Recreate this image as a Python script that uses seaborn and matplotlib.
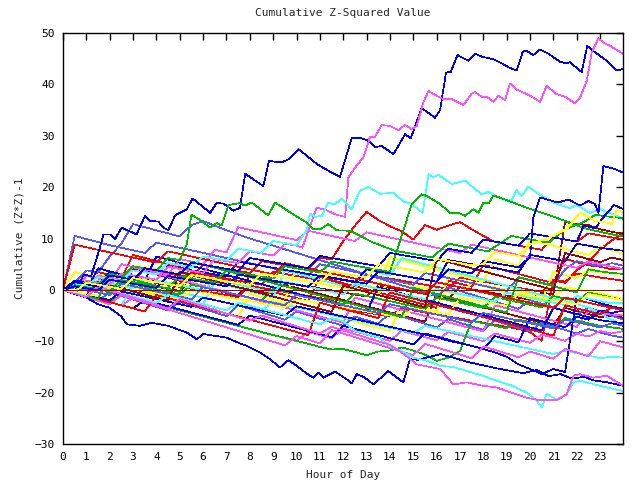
import numpy as np
import pandas as pd
import matplotlib
matplotlib.use("Agg")
import matplotlib.pyplot as plt
import seaborn as sns

TITLE = "Cumulative Z-Squared Value"
XLABEL = "Hour of Day"
YLABEL = "Cumulative (Z*Z)-1"
XTICKS = list(range(0, 24))
YTICKS = list(range(-30, 51, 10))

COLORS = {
    "red": "#ff0000", "green": "#00b800", "blue": "#0000f0", "magenta": "#ff50ff",
    "cyan": "#40ffff", "darkred": "#a00000", "yellow": "#ffff00", "lightblue": "#5858ff",
}

# ---- traced outlier series: (hour, value) pairs ----
A_BLUE = [(0,0),(0.3,1.0),(0.6,0.6),(0.9,3.0),(1.2,2.6),(1.58,8.2),(1.73,10.8),(2.01,10.8),(2.23,9.9),(2.51,12.1),
          (3.15,10.8),(3.51,14.4),(3.73,13.4),(4.08,13.3),(4.30,12.1),(4.51,11.6),(4.80,14.5),(5.30,15.7),(5.55,17.8),
          (6.30,15.0),(6.58,16.9),(6.87,16.8),(7.30,15.4),(7.58,16.0),(7.80,22.6),(8.58,20.2),(8.82,25.1),(9.36,24.8),
          (9.65,25.4),(10.08,27.4),(10.44,26.1),(10.87,24.5),(11.43,23.0),(11.86,22.0),(12.36,29.5),(12.79,29.5),
          (13.08,29.0),(13.36,27.8),(13.65,28.0),(14.15,26.4),(14.65,30.3),(14.89,29.5),(15.36,35.4),(15.93,33.5),
          (16.15,35.0),(16.40,42.3),(16.60,42.4),(16.89,45.7),(17.36,44.6),(17.64,46.0),(17.93,45.4),(18.43,44.9),
          (18.86,43.9),(19.14,43.2),(19.43,42.7),(19.69,46.4),(19.86,46.5),(20.14,45.7),(20.43,46.8),(20.78,46.0),
          (21.28,44.4),(21.57,44.1),(21.71,44.3),(22.21,42.4),(22.45,47.5),(22.71,46.5),(23.28,44.6),(23.71,42.7),(24.0,43.0)]
B_MAGENTA = [(0,0),(0.5,-0.4),(1,1.8),(1.5,1.4),(2,1.0),(2.5,3.2),(3,2.8),(3.5,2.4),(4,2.0),(4.5,4.5),(5,4.1),(5.5,3.7),
             (6,3.3),(6.5,6.0),(7,5.6),(7.5,5.2),(8,7.5),(8.5,7.1),(9,6.7),(9.5,9.0),(10,8.6),(10.25,8.2),(10.51,11.6),
             (10.86,16.0),(11.29,15.5),(11.65,14.7),(12.08,14.2),(12.22,21.9),(12.51,23.8),(12.86,25.8),(13.15,29.8),
             (13.36,29.8),(13.65,32.1),(14.0,31.9),(14.36,31.1),(14.65,32.1),(14.93,31.3),(15.15,31.9),(15.43,36.5),
             (15.65,38.7),(16.0,37.8),(16.29,37.1),(16.65,37.1),(17.15,36.0),(17.5,38.2),(17.64,38.5),(17.93,37.6),
             (18.15,37.6),(18.43,36.6),(18.64,37.8),(18.93,36.9),(19.14,40.2),(19.43,39.0),(20.0,37.8),(20.43,36.6),
             (20.71,39.7),(21.14,38.1),(21.5,37.6),(21.93,36.3),(22.14,37.4),(22.43,40.7),(22.64,46.2),(22.93,49.0),
             (23.14,48.1),(23.43,47.5),(24.0,45.9)]
C_CYAN = [(0,0),(0.5,1.2),(1,0.8),(1.5,2.5),(2,2.1),(2.5,1.7),(3,3.8),(3.5,3.4),(4,3.0),(4.5,5.2),(5,4.8),(5.5,4.4),
          (6,6.5),(6.5,6.1),(7,5.7),(7.5,8.0),(8,7.6),(8.5,7.2),(9,9.5),(9.5,9.1),(10,8.7),(10.44,11.6),(10.58,14.9),
          (10.8,14.2),(11.08,14.4),(11.36,17.0),(11.6,16.6),(11.93,17.7),(12.36,15.7),(12.72,19.3),(13.08,20.0),
          (13.58,18.7),(14.15,18.9),(14.58,17.2),(14.93,16.7),(15.4,15.0),(15.65,22.5),(15.86,21.9),(16.07,22.4),
          (16.65,20.6),(16.93,20.9),(17.22,21.3),(17.57,19.9),(17.93,18.6),(18.22,19.1),(18.57,18.2),(19.0,17.3),
          (19.22,17.5),(19.43,19.4),(19.64,18.3),(19.93,20.1),(20.29,18.9),(21.0,17.0),(21.71,15.9),(22.0,16.5),
          (22.57,15.0),(23.0,15.7),(23.57,14.7),(24.0,13.8)]
D_GREEN = [(0,0),(0.5,-0.6),(1,1.5),(1.5,1.1),(2,2.9),(2.5,2.5),(3,4.6),(3.5,4.2),(4,3.8),(4.5,6.2),(5,5.8),(5.3,8.9),
           (5.5,14.6),(5.87,13.6),(6.3,12.1),(6.58,13.0),(6.79,12.5),(7.08,16.5),(7.58,16.9),(7.79,16.4),(8.08,17.0),
           (8.79,14.5),(9.08,17.0),(9.86,14.7),(10.44,13.1),(10.72,11.8),(11.01,11.8),(11.36,12.8),(11.72,11.6),
           (12.29,11.5),(13.29,9.2),(14.22,7.6),(15,7.0),(15.8,6.3),(16.5,9.0),(17.3,8.3),(18.2,7.5),(19.2,10.5),
           (20.0,9.8),(20.8,9.2),(21.5,11.8),(22.3,13.2),(22.8,14.6),(23.3,14.3),(23.9,14.0),(24,13.8)]
E_GREEN = [(0,0),(0.5,0.9),(1,0.5),(1.5,0.1),(2,-0.3),(2.5,1.9),(3,1.5),(3.5,1.1),(4,0.7),(4.5,0.3),(5,2.6),(5.5,2.2),
           (6,1.8),(6.5,1.4),(7,3.8),(7.5,3.4),(8,3.0),(8.5,2.6),(9,2.2),(9.5,4.6),(10,4.2),(10.5,3.8),(11,3.4),
           (11.5,5.5),(12,5.1),(12.5,4.7),(13,4.3),(13.5,3.9),(14,3.5),(14.58,11.6),(14.93,16.7),(15.36,18.6),
           (15.57,18.3),(16.15,16.7),(16.57,15.0),(16.93,15.0),(17.22,14.4),(17.57,15.7),(17.79,15.0),(18.0,17.0),
           (18.22,16.8),(18.43,18.4),(18.86,17.7),(19.86,16.0),(20.57,14.9),(21.28,13.8),(22.28,12.1),(22.71,11.6),
           (23.3,11.0),(24,10.4)]
F_BLUE = [(0,0),(0.5,-0.8),(1,-1.5),(1.5,-2.8),(2,-3.5),(2.5,-5.2),(2.73,-6.7),(3.3,-7.0),(3.8,-6.4),(4.5,-7.0),
          (5.3,-8.3),(5.73,-9.6),(6.01,-8.6),(7.01,-9.3),(7.51,-10.3),(7.87,-10.9),(8.44,-12.2),(8.87,-13.5),
          (9.29,-15.1),(9.65,-13.7),(10.01,-14.8),(10.44,-16.3),(10.72,-17.1),(10.93,-16.1),(11.15,-17.1),
          (11.65,-15.9),(12.15,-17.4),(12.36,-18.2),(12.58,-16.4),(12.9,-17.0),(13.29,-18.4),(13.93,-15.8),
          (14.57,-18.0),(14.86,-13.5),(15.2,-13.6),(15.57,-13.2),(16.15,-12.5),(16.8,-13.3),(17.3,-14.0),(18.0,-14.7),
          (18.6,-15.3),(19.2,-15.8),(19.7,-16.2),(20.3,-15.6),(20.8,-16.8),(21.3,-16.4),(21.8,-17.3),(22.3,-16.9),
          (22.7,-17.6),(23.3,-18.0),(23.7,-18.4),(24,-18.7)]
G_CYAN = [(0,0),(0.5,-0.6),(1,-1.2),(1.5,0.5),(2,-0.1),(2.5,-0.7),(3,-1.3),(3.5,-1.9),(4,-2.5),(4.5,-1.0),(5,-1.6),
          (5.5,-2.2),(6,-2.8),(6.5,-3.4),(7,-4.0),(7.5,-2.5),(8,-3.1),(8.5,-3.7),(9,-4.3),(9.5,-4.9),(10,-5.5),
          (10.5,-6.1),(11,-6.7),(11.5,-5.5),(12,-6.1),(12.5,-8.0),(13,-8.6),(13.5,-9.2),(14,-11.0),(14.5,-11.9),
          (15.0,-13.2),(15.6,-13.8),(16.15,-14.8),(16.7,-15.0),(17.29,-15.8),(17.9,-16.6),(18.57,-17.7),(19.2,-18.6),
          (19.86,-20.0),(20.29,-21.6),(20.5,-22.9),(20.71,-20.3),(21.14,-21.3),(21.57,-20.3),(21.86,-18.0),
          (22.14,-17.7),(22.7,-18.3),(23.28,-19.0),(23.6,-19.3),(24,-19.7)]
H_MAGENTA = [(0,0),(0.5,-0.7),(1,-1.4),(1.5,0.6),(2,-0.1),(2.5,-0.8),(3,-1.5),(3.5,-2.2),(4,-2.9),(4.5,-3.6),(5,-1.8),
             (5.5,-2.5),(6,-3.2),(6.5,-3.9),(7,-4.6),(7.5,-5.3),(8,-6.0),(8.5,-5.0),(9,-5.7),(9.5,-6.4),(10,-7.1),
             (10.5,-7.8),(11,-8.5),(11.5,-7.2),(12,-7.9),(12.5,-8.6),(13,-9.3),(13.5,-10.0),(14,-10.7),(14.6,-12.5),
             (15.15,-14.5),(16.15,-15.4),(16.72,-18.4),(17.29,-18.0),(17.9,-18.6),(18.57,-19.0),(19.2,-20.0),
             (19.86,-21.0),(20.43,-21.5),(21.14,-21.5),(21.57,-20.3),(21.86,-16.7),(22.14,-16.4),(22.71,-17.1),
             (23.28,-16.7),(23.6,-17.6),(24,-18.7)]
I_BLUE = [(0,0),(0.5,0.7),(1,0.3),(1.5,-0.1),(2,2.0),(2.5,1.6),(3,1.2),(3.5,0.8),(4,0.4),(4.5,2.7),(5,2.3),(5.5,1.9),
          (6,1.5),(6.5,1.1),(7,0.7),(7.5,3.0),(8,2.6),(8.5,2.2),(9,1.8),(9.5,1.4),(10,1.0),(10.5,0.6),(11,2.8),
          (11.5,2.4),(12,2.0),(12.5,1.6),(13,1.2),(13.5,3.6),(14,3.2),(14.5,2.8),(15,2.4),(15.5,2.0),(16,1.6),
          (16.5,4.0),(17,3.6),(17.5,3.2),(18,5.6),(18.5,5.2),(19,4.8),(19.5,4.4),(20.0,6.4),(20.14,14.1),(20.43,18.0),
          (20.8,17.5),(21.2,17.0),(21.64,17.6),(22.14,16.4),(22.5,17.3),(22.78,16.7),(22.93,15.0),(23.14,24.1),
          (23.64,23.5),(24,22.8)]
J_BLUE = [(0,0),(0.5,1.5),(1,1.1),(1.5,0.7),(2,2.8),(2.5,2.4),(3,2.0),(3.5,4.2),(4,3.8),(4.5,3.4),(5,3.0),(5.5,5.3),
          (6,4.9),(6.5,4.5),(7,4.1),(7.5,3.7),(8,6.2),(8.5,5.8),(9,5.4),(9.5,5.0),(10,4.6),(10.5,4.2),(11,6.6),
          (11.5,6.2),(12,5.8),(12.5,5.4),(13,5.0),(13.5,4.6),(14,7.2),(14.5,6.8),(15,6.4),(15.5,6.0),(16,5.6),
          (16.5,8.0),(17,7.6),(17.5,7.2),(18,9.8),(18.5,9.4),(19,9.0),(19.5,8.6),(20,11.0),(20.5,10.6),(21,10.2),
          (21.5,9.8),(22,9.4),(22.3,12.5),(22.8,12.0),(23.2,14.5),(23.6,16.5),(24,15.7)]
K_YELLOW = [(0,0),(0.5,-0.4),(1,1.4),(1.5,1.0),(2,0.6),(2.5,0.2),(3,2.3),(3.5,1.9),(4,1.5),(4.5,1.1),(5,0.7),(5.5,2.9),
            (6,2.5),(6.5,2.1),(7,1.7),(7.5,1.3),(8,0.9),(8.5,3.2),(9,2.8),(9.5,2.4),(10,2.0),(10.5,1.6),(11,1.2),
            (11.5,3.6),(12,3.2),(12.5,2.8),(13,2.4),(13.5,5.0),(14,4.6),(14.5,4.2),(15,3.8),(15.5,3.4),(16,6.0),
            (16.5,5.6),(17,5.2),(17.5,4.8),(18,5.0),(18.5,7.4),(19,7.0),(19.5,6.6),(20,8.8),(20.4,9.5),(21,10.5),
            (21.6,12.0),(22.14,15.0),(22.5,14.2),(22.78,13.4),(23.28,13.1),(23.5,12.8),(23.71,15.7),(24,15.0)]

# ---- band series at half-hour steps from hour 0 to 24 ----
N1_RED = [0,1.2,0.8,0.4,2.6,2.2,1.8,4.0,3.6,3.2,2.8,2.4,4.9,4.5,4.1,3.7,3.3,5.6,5.2,4.8,4.4,4.0,6.3,5.9,9.5,12.5,15.2,
          13.6,12.4,11.4,9.8,12.6,11.7,12.5,13.2,11.8,10.5,9.3,9.0,8.6,8.2,7.8,10.2,9.8,9.4,11.0,10.6,10.2,9.9]
N2_RED = [0,-0.5,1.5,1.1,0.7,0.3,2.6,2.2,1.8,1.4,1.0,3.4,3.0,2.6,2.2,1.8,1.4,1.0,3.5,3.1,2.7,2.3,1.9,1.5,1.1,0.7,3.0,
          2.6,2.2,1.8,1.4,1.0,0.6,0.2,2.4,2.0,1.6,1.2,0.8,0.4,0.0,-0.4,1.8,1.4,3.8,5.5,7.9,9.6,11.2]
N3_RED = [0,-0.6,-1.2,3.5,2.9,2.3,6.8,6.2,5.6,5.0,4.4,3.8,3.2,2.6,2.0,1.4,0.8,0.2,-0.4,-1.0,-1.6,-2.2,2.5,1.9,1.3,
          0.7,0.1,-0.5,-1.1,-1.7,-2.3,-2.9,-3.5,1.8,1.2,0.6,4.9,4.3,3.7,3.1,2.5,1.9,1.3,6.0,5.4,4.8,4.5,4.0,4.2]
N4_RED = [0,-0.4,-0.8,1.0,0.6,0.2,-0.2,-0.6,1.4,1.0,0.6,0.2,-0.2,-0.6,-1.0,-1.4,0.8,0.4,0.0,-0.4,-0.8,-1.2,-1.6,-2.0,
          -3.6,-4.0,-4.4,-4.8,-5.2,-3.6,-4.0,-4.4,-4.8,-5.2,-5.6,-6.0,-6.4,-6.8,-7.2,-7.6,-8.2,-9.9,2.0,1.6,3.2,2.8,
          2.4,2.1,1.75]
N5_DARKRED = [0,0.9,0.5,0.1,-0.3,1.8,1.4,1.0,0.6,0.2,-0.2,2.0,1.6,1.2,0.8,0.4,0.0,-0.4,-0.8,1.5,1.1,0.7,0.3,-0.1,
              -0.5,-0.9,-1.3,0.8,0.4,0.0,-0.4,-0.8,-1.2,-1.6,0.5,0.1,-0.3,-0.7,-1.1,-1.5,-1.9,-0.5,-0.9,13.2,12.8,
              12.6,11.8,11.3,10.9]
N6_DARKRED = [0,1.5,0.9,0.3,-0.3,-0.9,4.2,3.6,3.0,2.4,1.8,1.2,0.6,0.0,-0.6,-1.2,2.8,2.2,1.6,1.0,0.4,-0.2,-0.8,-1.4,
              -2.0,-2.6,-3.2,-3.8,-4.4,-5.0,-5.6,-6.2,-1.0,-1.6,-2.2,-2.8,-3.4,-4.0,-4.6,-5.2,-5.8,-6.4,-7.0,-3.5,
              -4.1,-4.7,-5.3,-5.0,-5.4]
N7_YELLOW = [0,1.5,1.1,3.0,2.6,2.2,1.8,4.5,4.1,3.7,3.3,2.9,2.5,2.1,1.7,1.3,0.9,3.2,2.8,2.4,2.0,1.6,1.2,0.8,0.4,0.0,
             -0.4,-0.8,1.5,1.1,0.7,0.3,-0.1,-0.5,-0.9,1.3,0.9,0.5,0.1,-0.3,-0.7,-1.1,-1.5,0.5,0.1,-0.3,-0.7,-1.2,-1.8]
N8_YELLOW = [0,3.5,2.9,2.3,1.7,1.1,0.5,-0.1,-0.7,-1.3,-1.9,2.8,2.2,1.6,1.0,0.4,-0.2,-0.8,-1.4,-2.0,4.5,3.9,3.3,2.7,
             2.1,1.5,0.9,0.3,6.4,5.8,5.2,4.6,4.0,3.4,2.8,2.2,1.6,5.9,5.3,4.7,9.8,9.2,8.6,8.0,7.4,6.8,8.5,7.7,7.0]
N9_YELLOW = [0,-0.6,-1.2,-1.8,-2.4,-3.0,-3.6,-0.5,-1.1,-1.7,-2.3,-2.9,-3.5,-4.1,-4.7,-5.3,-0.8,-1.4,-2.0,-2.6,-3.2,
             -3.8,-4.4,-5.0,-5.6,-6.2,-6.8,-7.4,-8.0,-2.5,-3.1,-3.7,-4.3,2.5,1.9,1.3,0.7,0.1,-0.5,-1.1,-1.7,-2.3,
             3.5,2.9,2.3,3.8,3.4,3.2,3.0]
N10_LIGHTBLUE = [0,10.5,9.9,9.3,8.7,8.2,7.7,7.2,9.2,8.7,8.2,7.7,7.2,6.7,6.2,5.7,5.2,4.7,4.2,3.7,3.2,2.7,5.0,4.5,4.0,
                 3.5,3.0,2.5,2.0,1.5,1.0,3.3,2.8,2.3,1.8,1.3,0.8,0.3,-0.2,2.4,1.9,1.4,0.9,4.0,5.6,5.1,4.6,5.2,4.7]
N11_LIGHTBLUE = [0,1.5,3.8,3.4,6.5,9.0,12.8,12.2,11.6,11.0,10.4,12.6,13.4,12.5,11.6,10.8,10.0,9.3,8.6,7.9,7.2,6.5,
                 5.8,5.1,4.4,3.7,3.0,2.3,1.6,0.9,0.2,-0.5,-1.2,0.5,-0.2,-0.9,-1.6,-2.3,-3.0,-3.7,-2.0,-2.7,-3.4,-4.1,
                 -4.8,-3.5,-4.2,-5.0,-5.8]
N12_LIGHTBLUE = [0,-0.7,-1.4,-2.1,-0.5,-1.2,-1.9,-2.6,-3.3,-4.0,-2.3,-3.0,-3.7,-4.4,-5.1,-3.0,-3.7,-4.4,-5.1,-5.8,
                 -4.2,-4.9,-5.6,-6.3,-7.0,-5.2,-5.9,-6.6,-4.5,-5.2,-5.9,-6.6,-7.3,-5.7,-6.4,-7.1,-7.8,-6.0,-6.7,-7.4,
                 -8.1,-6.4,-7.1,-7.8,-8.5,-7.6,-8.3,-8.9,-9.3]
N13_MAGENTA = [0,-0.6,2.8,2.2,1.6,5.0,4.4,3.8,3.2,2.6,2.0,1.4,0.8,0.2,-0.4,-1.0,-1.6,-2.2,-2.8,-3.4,-4.0,-4.6,-5.2,
               -5.8,-6.4,-1.5,-2.1,-2.7,-3.3,-3.9,-4.5,-5.1,-5.7,-6.3,-6.9,-7.5,-8.1,-3.0,-3.6,-4.2,-4.8,-5.4,-6.0,
               -6.6,-7.2,-4.0,-4.6,-4.8,-5.0]
N14_MAGENTA = [0,-0.6,-1.2,-1.8,-2.4,-3.0,-1.6,-2.2,-2.8,-3.4,-4.0,-4.6,-5.2,-5.8,-6.4,-7.0,-7.6,-8.2,-8.8,-9.4,
               -10.0,-8.2,-8.8,-9.4,-7.5,-8.1,-8.7,-9.3,-9.9,-8.0,-8.6,-9.2,-9.8,-8.2,-8.8,-9.4,-10.0,-8.5,-9.1,-9.7,
               -10.3,-8.7,-9.3,-9.9,-8.5,-9.1,-8.0,-8.5,-8.0]
N15_CYAN = [0,-0.5,-1.0,0.8,0.3,-0.2,-0.7,-1.2,-1.7,-2.2,-0.5,-1.0,-1.5,-2.0,-2.5,-3.0,-3.5,-4.0,-2.4,-2.9,-3.4,
            -3.9,-4.4,-4.9,-5.4,-5.9,-6.4,-6.9,-7.4,-7.9,-8.4,-7.0,-7.5,-8.0,-8.5,-9.0,-9.5,-10.0,-10.5,-11.0,-11.5,
            -12.0,-12.5,-11.8,-12.3,-12.8,-13.3,-13.0,-13.2]
N16_CYAN = [0,-0.6,-1.2,-1.8,-2.4,-3.0,0.8,0.2,-0.4,-1.0,-1.6,-2.2,-2.8,1.5,0.9,0.3,-0.3,-0.9,-1.5,3.8,3.2,2.6,2.0,
            1.4,0.8,0.2,4.0,3.4,2.8,6.2,5.6,5.0,4.4,3.8,3.2,2.6,2.0,1.4,0.8,0.2,-0.4,-1.0,-1.6,-2.2,-2.8,-3.4,-4.6,
            -5.8,-7.0]
N17_GREEN = [0,-0.6,-1.2,-1.8,-2.4,-1.0,-1.6,-2.2,-2.8,-3.4,-4.0,-4.6,-5.2,-5.8,-6.4,-7.0,-7.6,-8.2,-8.8,-9.3,-9.9,
             -10.5,-11.1,-11.6,-11.5,-12.1,-12.7,-12.0,-11.8,-11.2,-11.8,-12.6,-13.8,-13.2,-11.9,-6.0,-6.5,-7.0,-7.5,
             -5.8,-6.3,-6.8,-7.3,-5.5,-6.0,-6.5,-7.0,-7.3,-7.6]
N18_GREEN = [0,1.0,0.5,0.0,-0.5,1.6,1.1,0.6,0.1,-0.4,-0.9,1.0,0.5,0.0,-0.5,-1.0,-1.5,-2.0,0.2,-0.3,-0.8,-1.3,-1.8,
             -2.3,-2.8,-0.7,-1.2,-1.7,-2.2,-2.7,-3.2,-3.7,-1.5,-2.0,-2.5,-3.0,-3.5,-1.4,-1.9,-2.4,-2.9,-3.4,-1.2,-1.7,
             -2.2,-0.5,-1.0,-1.5,-2.0]
N19_BLUE = [0,-0.5,-1.0,-1.5,-2.0,-0.3,-0.8,-1.3,-1.8,-2.3,-2.8,-3.3,-1.5,-2.0,-2.5,-3.0,-3.5,-4.0,-4.5,-5.0,-3.2,
            -3.7,-4.2,-4.7,-5.2,-5.7,-6.2,-6.7,-7.2,-7.7,-8.2,-8.7,-9.2,-9.9,-10.4,-10.9,-11.5,-12.2,-13.0,-14.5,
            -15.4,-16.4,-15.4,-16.0,-1.2,-1.8,-2.6,-3.2,-3.7]
N20_BLUE = [0,1.8,1.4,1.0,3.5,3.1,2.7,2.3,1.9,4.6,4.2,3.8,3.4,3.0,2.6,5.5,5.1,4.7,4.3,3.9,3.5,3.1,2.7,2.3,1.9,1.5,
            4.0,3.6,3.2,2.8,2.4,2.0,1.6,5.8,5.4,5.0,4.6,4.2,3.8,3.4,6.8,6.4,6.0,5.6,9.0,8.6,8.2,7.9,7.6]
N21_BLUE = [0,0.5,-0.1,4.2,3.6,3.0,2.4,1.8,6.5,5.9,5.3,4.7,4.1,3.5,2.9,2.3,1.7,1.1,0.5,-0.1,-0.7,-1.3,-1.9,-2.5,
            -3.1,-3.7,-4.3,0.5,-0.1,-0.7,-1.3,-1.9,-2.5,-3.1,-3.7,-4.3,-4.9,-5.5,-6.1,-6.7,-7.3,-7.9,-3.5,-4.1,
            -4.7,-5.3,-5.9,-6.2,-6.5]
N22_BLUE = [0,-0.6,-1.2,-1.8,-2.4,-3.0,-3.6,-2.0,-2.6,-3.2,-3.8,-4.4,-5.0,-5.6,-6.2,-6.8,-5.0,-5.6,-6.2,-6.8,-7.4,
            -8.0,-8.6,-9.2,-7.0,-7.6,-8.2,-8.8,-9.4,-10.0,-10.6,-8.5,-9.1,-9.7,-10.3,-10.9,-11.5,-9.0,-9.6,-10.2,
            -5.5,-6.1,-6.7,-7.3,-5.2,-5.8,-4.0,-4.5,-4.0]
N23_MAGENTA = [0,1.0,0.5,2.8,2.3,1.8,4.5,4.0,3.5,3.0,6.0,5.5,5.0,7.8,7.3,12.2,11.7,11.2,10.7,10.2,9.7,11.5,11.0,10.5,
               10.0,9.5,11.2,10.7,10.2,9.7,9.2,8.7,8.2,7.7,7.2,8.8,8.3,7.8,7.3,6.8,6.3,5.8,5.3,4.8,4.3,5.5,5.0,4.5,4.0]
N24_MAGENTA = [0,-0.7,-1.4,-2.1,-2.8,-1.0,-1.7,-2.4,-3.1,-3.8,-4.5,-5.2,-5.9,-6.6,-7.3,-8.0,-8.7,-9.4,-10.1,-10.8,
               -9.0,-9.7,-10.4,-7.8,-8.5,-9.2,-9.9,-10.6,-11.3,-12.0,-12.7,-10.5,-11.2,-11.9,-12.6,-13.3,-11.0,-11.7,
               -12.4,-13.1,-12.0,-12.7,-13.4,-11.5,-12.2,-12.9,-10.0,-10.6,-11.2]
N25_CYAN = [0,0.5,0.0,1.8,1.3,0.8,0.3,2.4,1.9,1.4,0.9,0.4,-0.1,2.0,1.5,1.0,0.5,0.0,-0.5,1.6,1.1,0.6,0.1,-0.4,-0.9,
            1.2,0.7,0.2,-0.3,-0.8,-1.3,-1.8,0.2,-0.3,-0.8,-1.3,-1.8,-2.3,-0.5,-1.0,-1.5,-2.0,-2.5,-3.0,-1.2,-1.7,
            -2.2,-2.6,-2.5]
N27_YELLOW = [0,-0.4,-0.8,-1.2,0.5,0.1,-0.3,-0.7,-1.1,-1.5,-1.9,-0.2,-0.6,-1.0,-1.4,-1.8,-2.2,-2.6,-3.0,-3.4,-1.8,
              -2.2,-2.6,-3.0,-3.4,-3.8,-4.2,-4.6,-5.0,-5.4,-3.6,-4.0,-4.4,-4.8,-1.5,-1.9,-2.3,-2.7,-3.1,-0.8,-1.2,
              -1.6,-2.0,-2.4,-2.8,-0.8,-1.2,-1.6,-2.0]
N28_RED = [0,-0.6,-1.2,-1.8,-2.4,-3.0,-3.6,-4.2,-1.0,-1.6,-2.2,-2.8,-3.4,-4.0,-4.6,-5.2,-5.8,-6.4,-7.0,-7.6,-8.2,
           -8.8,-2.5,-3.1,-3.7,-4.3,-4.9,-5.5,-0.5,-1.1,-1.7,-2.3,-2.9,-3.5,-4.1,-4.7,-5.3,-5.9,-6.5,-7.1,-7.7,-8.3,
           -8.9,-3.0,-3.6,-4.2,-4.8,-3.4,-4.0]
N29_GREEN = [0,-0.6,-1.2,-1.8,3.2,2.6,2.0,1.4,0.8,0.2,-0.4,5.5,4.9,4.3,3.7,3.1,2.5,1.9,1.3,0.7,0.1,-0.5,-1.1,-1.7,
             -2.3,-2.9,-3.5,-4.1,-4.7,-5.3,0.4,-0.2,-0.8,-1.4,-2.0,-2.6,-3.2,-3.8,-4.4,2.5,1.9,1.3,0.7,0.1,-0.5,4.0,
             3.6,3.3,3.1]
N30_DARKRED = [0,-0.6,-1.2,1.5,0.9,0.3,-0.3,-0.9,-1.5,-2.1,3.5,2.9,2.3,1.7,1.1,0.5,-0.1,-0.7,-1.3,-1.9,-2.5,-3.1,
               -3.7,-4.3,0.8,0.2,-0.4,-1.0,-1.6,-2.2,-2.8,-3.4,6.0,5.4,4.8,4.2,3.6,3.0,2.4,1.8,1.2,0.6,0.0,7.2,6.6,
               6.0,5.4,6.3,5.8]
N31_LIGHTBLUE = [0,0.5,0.0,-0.5,-1.0,1.2,0.7,0.2,-0.3,-0.8,-1.3,-1.8,0.5,0.0,-0.5,-1.0,-1.5,-2.0,-2.5,-3.0,-1.0,-1.5,
                 -2.0,-2.5,-3.0,-3.5,-4.0,-4.5,-2.8,-3.3,-3.8,-4.3,-4.8,-5.3,-5.8,-6.3,-4.5,-5.0,-5.5,-6.0,-6.5,-7.0,
                 -7.5,-5.8,-6.3,-6.8,-7.3,-6.5,-7.0]
N32_RED = [0,8.8,8.3,7.8,7.3,6.8,6.3,5.8,5.3,7.5,7.0,6.5,6.0,5.5,5.0,4.5,4.0,3.5,3.0,5.2,4.7,4.2,3.7,3.2,2.7,2.2,1.7,
           1.2,0.7,0.2,-0.3,-0.8,1.5,1.0,0.5,0.0,-0.5,-1.0,-1.5,-2.0,-2.5,-3.0,-3.5,-1.5,-2.0,-2.5,-3.0,-3.5,-4.0]
ZERO_LINE = [0, 0]

PAIR_SERIES = [
    ("A", "blue", A_BLUE), ("B", "magenta", B_MAGENTA), ("C", "cyan", C_CYAN), ("D", "green", D_GREEN),
    ("E", "green", E_GREEN), ("F", "blue", F_BLUE), ("G", "cyan", G_CYAN), ("H", "magenta", H_MAGENTA),
    ("I", "blue", I_BLUE), ("J", "blue", J_BLUE), ("K", "yellow", K_YELLOW),
]
GRID_SERIES = [
    ("N1", "red", N1_RED), ("N2", "red", N2_RED), ("N3", "red", N3_RED), ("N4", "red", N4_RED),
    ("N5", "darkred", N5_DARKRED), ("N6", "darkred", N6_DARKRED), ("N7", "yellow", N7_YELLOW),
    ("N8", "yellow", N8_YELLOW), ("N9", "yellow", N9_YELLOW), ("N10", "lightblue", N10_LIGHTBLUE),
    ("N11", "lightblue", N11_LIGHTBLUE), ("N12", "lightblue", N12_LIGHTBLUE), ("N13", "magenta", N13_MAGENTA),
    ("N14", "magenta", N14_MAGENTA), ("N15", "cyan", N15_CYAN), ("N16", "cyan", N16_CYAN),
    ("N17", "green", N17_GREEN), ("N18", "green", N18_GREEN), ("N19", "blue", N19_BLUE),
    ("N20", "blue", N20_BLUE), ("N21", "blue", N21_BLUE), ("N22", "blue", N22_BLUE),
    ("N23", "magenta", N23_MAGENTA), ("N24", "magenta", N24_MAGENTA), ("N25", "cyan", N25_CYAN),
    ("N27", "yellow", N27_YELLOW), ("N28", "red", N28_RED), ("N29", "green", N29_GREEN),
    ("N30", "darkred", N30_DARKRED), ("N31", "lightblue", N31_LIGHTBLUE), ("N32", "red", N32_RED),
    ("ZERO", "darkred", ZERO_LINE),
]

rows = []
palette = {}
order = []
for name, col, pts in PAIR_SERIES:
    for h, v in pts:
        rows.append((name, h, v))
    palette[name] = COLORS[col]
    order.append(name)
for name, col, vals in GRID_SERIES:
    hrs = np.linspace(0, 24, len(vals))
    for h, v in zip(hrs, vals):
        rows.append((name, h, v))
    palette[name] = COLORS[col]
# draw band lines first, then outliers, zero line last
order = [g[0] for g in GRID_SERIES[:-1]] + order + ["ZERO"]
df = pd.DataFrame(rows, columns=["series", "hour", "value"])

sns.set_theme(style="white")
plt.rcParams["font.family"] = ["DejaVu Sans Mono", "DejaVu Sans"]
plt.rcParams["lines.antialiased"] = False

fig = plt.figure(figsize=(6.4, 4.8), dpi=100)
ax = fig.add_axes([63/640, 1-444/480, 560/640, 411/480])

sns.lineplot(data=df, x="hour", y="value", hue="series", hue_order=order, palette=palette,
             estimator=None, sort=False, legend=False, linewidth=0.5, ax=ax)
for ln in ax.get_lines():
    ln.set_linewidth(0.5)
    ln.set_antialiased(False)

ax.set_xlim(0, 23.98)
ax.set_ylim(-30, 50)
ax.set_xticks(XTICKS)
ax.set_yticks(YTICKS)
ax.tick_params(direction="in", length=5, width=1, top=True, right=True, labelsize=8,
               colors="black", pad=6)
for s in ax.spines.values():
    s.set_color("black")
    s.set_linewidth(1)
ax.set_title(TITLE, fontsize=8, pad=12)
ax.set_xlabel(XLABEL, fontsize=8)
ax.set_ylabel(YLABEL, fontsize=8)
ax.yaxis.set_label_coords(-0.068, 0.5)
ax.xaxis.set_label_coords(0.5, -0.063)

fig.savefig("out.png", dpi=100)
